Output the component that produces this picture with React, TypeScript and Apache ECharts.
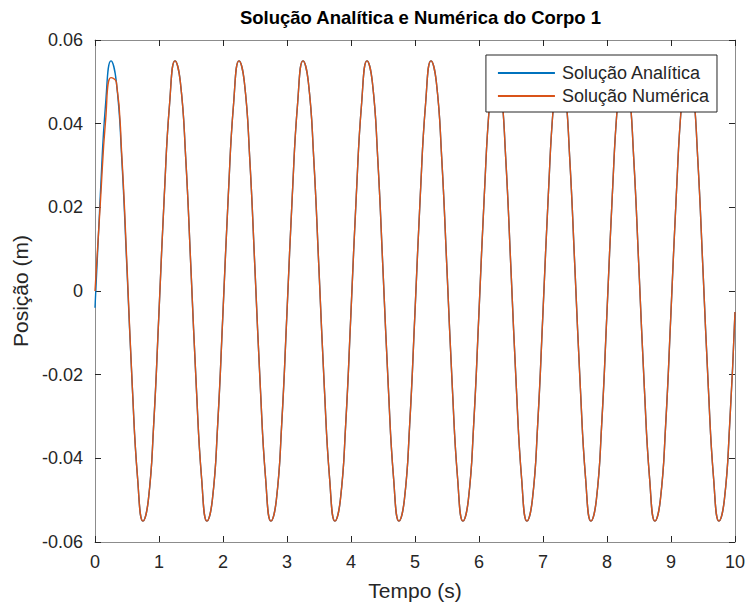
import React, { useEffect, useRef } from "react";
import * as echarts from "echarts";

const TITLE = "Solução Analítica e Numérica do Corpo 1";
const X_NAME = "Tempo (s)";
const Y_NAME = "Posição (m)";
const SERIES_NAMES = ["Solução Analítica", "Solução Numérica"];
const STEP = 1 / 12; // sampling step of the readings (s)

// Analytic solution readings, one per 1/12 s, t = 0 .. 10
const ANALYTIC = [
  -0.004, 0.023, 0.045, 0.055, 0.050, 0.032, 0.005, -0.023, -0.045, -0.055, -0.050, -0.032,
  -0.005, 0.023, 0.045, 0.055, 0.050, 0.032, 0.005, -0.023, -0.045, -0.055, -0.050, -0.032,
  -0.005, 0.023, 0.045, 0.055, 0.050, 0.032, 0.005, -0.023, -0.045, -0.055, -0.050, -0.032,
  -0.005, 0.023, 0.045, 0.055, 0.050, 0.032, 0.005, -0.023, -0.045, -0.055, -0.050, -0.032,
  -0.005, 0.023, 0.045, 0.055, 0.050, 0.032, 0.005, -0.023, -0.045, -0.055, -0.050, -0.032,
  -0.005, 0.023, 0.045, 0.055, 0.050, 0.032, 0.005, -0.023, -0.045, -0.055, -0.050, -0.032,
  -0.005, 0.023, 0.045, 0.055, 0.050, 0.032, 0.005, -0.023, -0.045, -0.055, -0.050, -0.032,
  -0.005, 0.023, 0.045, 0.055, 0.050, 0.032, 0.005, -0.023, -0.045, -0.055, -0.050, -0.032,
  -0.005, 0.023, 0.045, 0.055, 0.050, 0.032, 0.005, -0.023, -0.045, -0.055, -0.050, -0.032,
  -0.005, 0.023, 0.045, 0.055, 0.050, 0.032, 0.005, -0.023, -0.045, -0.055, -0.050, -0.032,
  -0.005,
];

// Numerical solution readings, same sampling
const NUMERIC = [
  0.000, 0.021, 0.041, 0.051, 0.050, 0.033, 0.006, -0.023, -0.045, -0.055, -0.050, -0.032,
  -0.005, 0.023, 0.045, 0.055, 0.050, 0.032, 0.005, -0.023, -0.045, -0.055, -0.050, -0.032,
  -0.005, 0.023, 0.045, 0.055, 0.050, 0.032, 0.005, -0.023, -0.045, -0.055, -0.050, -0.032,
  -0.005, 0.023, 0.045, 0.055, 0.050, 0.032, 0.005, -0.023, -0.045, -0.055, -0.050, -0.032,
  -0.005, 0.023, 0.045, 0.055, 0.050, 0.032, 0.005, -0.023, -0.045, -0.055, -0.050, -0.032,
  -0.005, 0.023, 0.045, 0.055, 0.050, 0.032, 0.005, -0.023, -0.045, -0.055, -0.050, -0.032,
  -0.005, 0.023, 0.045, 0.055, 0.050, 0.032, 0.005, -0.023, -0.045, -0.055, -0.050, -0.032,
  -0.005, 0.023, 0.045, 0.055, 0.050, 0.032, 0.005, -0.023, -0.045, -0.055, -0.050, -0.032,
  -0.005, 0.023, 0.045, 0.055, 0.050, 0.032, 0.005, -0.023, -0.045, -0.055, -0.050, -0.032,
  -0.005, 0.023, 0.045, 0.055, 0.050, 0.032, 0.005, -0.023, -0.045, -0.055, -0.050, -0.032,
  -0.005,
];

const X_MIN = 0, X_MAX = 10, X_INTERVAL = 1;
const Y_MIN = -0.06, Y_MAX = 0.06, Y_INTERVAL = 0.02;

const FONT = "'Liberation Sans', Arial, Helvetica, sans-serif";
const AXIS_GRAY = "#8c8c8c";
const TEXT_COLOR = "#262626";
const COLORS = ["#0072BD", "#D95319"];

const toPairs = (arr: number[]) => arr.map((v, i) => [i * STEP, v]);

export default function App() {
  const ref = useRef<HTMLDivElement>(null);
  useEffect(() => {
    if (!ref.current) return;
    const chart = echarts.init(ref.current, null, { renderer: "svg" });
    const axisCommon = {
      axisLine: { show: true, onZero: false, lineStyle: { color: AXIS_GRAY, width: 1 } },
      axisTick: { show: true, inside: true, length: 6, lineStyle: { color: "#262626", width: 1 } },
      splitLine: { show: false },
    };
    const yFmt = (v: number) => {
      const r = Math.round(v * 100) / 100;
      return r === 0 ? "0" : String(r);
    };
    chart.setOption({
      animation: false,
      backgroundColor: "#ffffff",
      textStyle: { fontFamily: FONT },
      title: {
        text: TITLE,
        left: 415.5,
        textAlign: "center",
        top: 3,
        textStyle: { fontFamily: FONT, fontSize: 18.5, fontWeight: "bold", color: "#000" },
      },
      legend: {
        orient: "vertical",
        right: 31,
        top: 55,
        backgroundColor: "#ffffff",
        borderColor: "#262626",
        borderWidth: 1,
        padding: [8, 8, 6, 12],
        itemGap: 3,
        itemWidth: 57,
        itemHeight: 2,
        icon: "rect",
        textStyle: { fontFamily: FONT, fontSize: 18, lineHeight: 20, color: TEXT_COLOR, padding: [0, 0, 0, 2] },
        data: SERIES_NAMES,
      },
      grid: { left: 95, right: 12, top: 40, bottom: 66, containLabel: false },
      xAxis: [
        {
          type: "value",
          min: X_MIN,
          max: X_MAX,
          interval: X_INTERVAL,
          position: "bottom",
          ...axisCommon,
          axisLabel: { color: TEXT_COLOR, fontSize: 18, fontFamily: FONT, margin: 11 },
          name: X_NAME,
          nameLocation: "middle",
          nameGap: 38,
          nameTextStyle: { color: TEXT_COLOR, fontSize: 21, fontFamily: FONT },
        },
        {
          type: "value",
          min: X_MIN,
          max: X_MAX,
          interval: X_INTERVAL,
          position: "top",
          ...axisCommon,
          axisLabel: { show: false },
        },
      ],
      yAxis: [
        {
          type: "value",
          min: Y_MIN,
          max: Y_MAX,
          interval: Y_INTERVAL,
          position: "left",
          ...axisCommon,
          axisLabel: { color: TEXT_COLOR, fontSize: 18, fontFamily: FONT, margin: 12, formatter: yFmt },
          name: Y_NAME,
          nameLocation: "middle",
          nameGap: 54,
          nameTextStyle: { color: TEXT_COLOR, fontSize: 21, fontFamily: FONT },
        },
        {
          type: "value",
          min: Y_MIN,
          max: Y_MAX,
          interval: Y_INTERVAL,
          position: "right",
          ...axisCommon,
          axisLabel: { show: false },
        },
      ],
      series: [
        {
          name: SERIES_NAMES[0],
          type: "line",
          data: toPairs(ANALYTIC),
          smooth: 0.5,
          showSymbol: false,
          symbol: "none",
          lineStyle: { color: COLORS[0], width: 1.4 },
          itemStyle: { color: COLORS[0] },
          z: 2,
        },
        {
          name: SERIES_NAMES[1],
          type: "line",
          data: toPairs(NUMERIC),
          smooth: 0.5,
          showSymbol: false,
          symbol: "none",
          lineStyle: { color: COLORS[1], width: 1.4 },
          itemStyle: { color: COLORS[1] },
          z: 3,
        },
      ],
    });
    return () => chart.dispose();
  }, []);
  return (
    <div
      ref={ref}
      style={{ position: "absolute", left: 0, top: 0, width: 748, height: 608 }}
    />
  );
}
